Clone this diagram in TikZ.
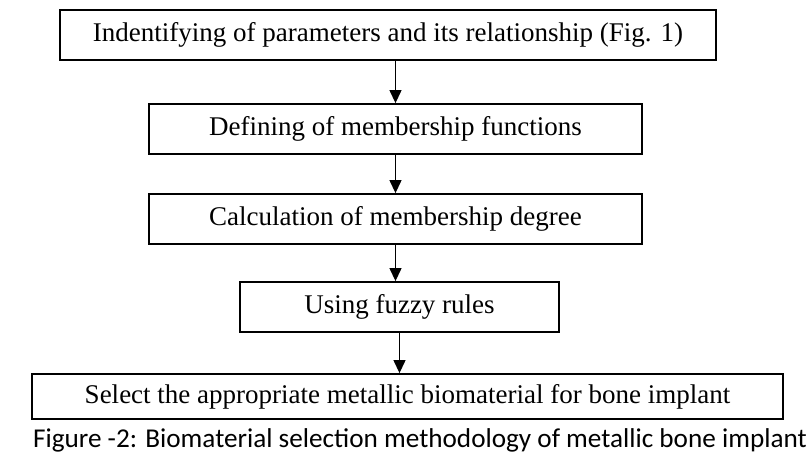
\documentclass[tikz,border=0pt]{standalone}
\usepackage{fontspec}
\setmainfont{Liberation Serif}
\newfontfamily\capfont{Carlito}
\usepackage{tikz}
\usetikzlibrary{positioning, arrows.meta}
\tikzset{
  Bx/.style n args={2}{draw=black, line width=0.9pt, fill=white,
    minimum width=#1, minimum height=#2,
    align=center, inner sep=0pt, font=\fontsize{13.5}{15}\selectfont},
  a/.style={-{Triangle[length=6.5pt,width=6pt]}, line width=0.6pt, color=black},
  captxt/.style={font=\capfont\fontsize{13.6}{15}\selectfont, inner sep=0pt, anchor=base}
}

\begin{document}
\begin{tikzpicture}[x=1pt, y=1pt]

% ═══════════════════════════════════════════════
%  canvas 405.5 x 227 (1px = 0.5pt)
% ═══════════════════════════════════════════════
\useasboundingbox (0,0) rectangle (405.5,-227);

\node[Bx={328pt}{25pt}] (Sparam) at (194, -17.5)
  {Indentifying of parameters and its relationship (Fig. 1)};
\node[Bx={246.5pt}{25pt}] (Smf) at (197.75, -64.5)
  {Defining of membership functions};
\node[Bx={246.5pt}{25pt}] (Sdeg) at (197.75, -109.5)
  {Calculation of membership degree};
\node[Bx={159.5pt}{25pt}] (Srule) at (199.75, -153.5)
  {Using fuzzy rules};
\node[Bx={375.5pt}{22.5pt}] (Ssel) at (203.75, -198.25)
  {Select the appropriate metallic biomaterial for bone implant};

\draw[a] (Sparam.south -| Smf.north) -- (Smf.north);
\draw[a] (Smf.south) -- (Sdeg.north);
\draw[a] (Sdeg.south) -- (Sdeg.south |- Srule.north);
\draw[a] (Srule.south) -- (Srule.south |- Ssel.north);

% caption
\node[captxt] (Cap) at (210, -223.8)
  {Figure -2: Biomaterial selection methodology of metallic bone implant};

\end{tikzpicture}
\end{document}
